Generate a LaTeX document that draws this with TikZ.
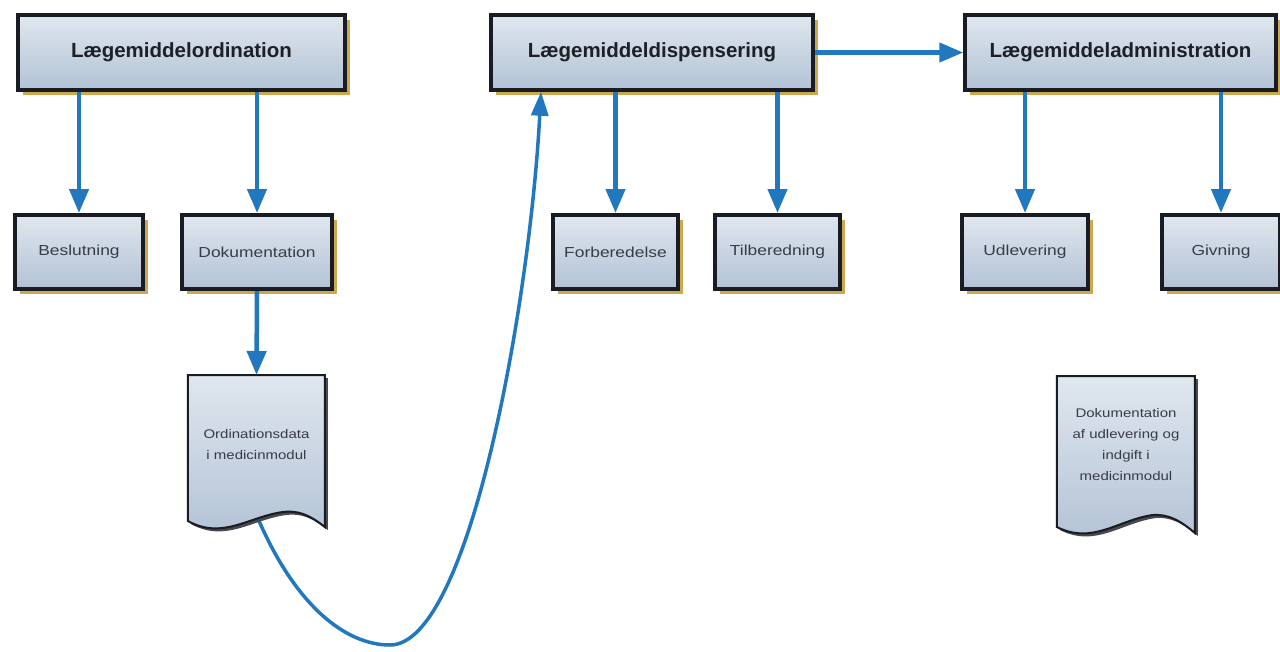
\documentclass[tikz,border=0pt]{standalone}
\usepackage{fontspec}
\setmainfont{Liberation Sans}
\newfontfamily\wide[FakeStretch=1.2]{Liberation Sans}
\usetikzlibrary{shadows,arrows.meta,calc}
\definecolor{arrowblue}{RGB}{34,120,190}
\definecolor{boxtop}{RGB}{224,231,239}
\definecolor{boxbot}{RGB}{178,194,213}
\definecolor{shadowgold}{RGB}{205,168,80}
\definecolor{edgec}{RGB}{25,28,34}
\definecolor{txt}{RGB}{30,32,40}
\definecolor{subtxt}{RGB}{55,60,70}
\begin{document}
\begin{tikzpicture}[x=1pt,y=-1pt,
  mainbox/.style={draw=edgec,line width=3.5pt,top color=boxtop,bottom color=boxbot,
    minimum height=75pt,inner sep=0pt,text=txt,
    font=\bfseries\fontsize{20.5}{24}\selectfont,
    general shadow={fill=shadowgold,shadow xshift=5pt,shadow yshift=-5pt}},
  subbox/.style={draw=edgec,line width=4pt,top color=boxtop,bottom color=boxbot,
    minimum height=74pt,inner sep=0pt,text=subtxt,
    font=\wide\fontsize{14.5}{17}\selectfont,
    general shadow={fill=shadowgold,shadow xshift=5pt,shadow yshift=-5pt}},
  docarea/.style={minimum width=137pt,minimum height=150pt,inner sep=0pt,anchor=north},
  doctext/.style={align=center,text=subtxt,font=\wide\fontsize{12.5}{21}\selectfont},
  docline/.style={draw=edgec,line width=2pt,top color=boxtop,bottom color=boxbot},
  docshadow/.style={fill=edgec!80},
  flow/.style={draw=arrowblue,line width=4.5pt,-{Triangle[length=24pt,width=19pt]}},
  curveflow/.style={draw=arrowblue,line width=3.5pt,-{Triangle[length=24pt,width=17pt]}},
]
\useasboundingbox (0,0) rectangle (1280,651);
\fill[white] (0,0) rectangle (1280,651);

% top boxes
\node[mainbox,minimum width=327pt] (b1) at (181.5,52.5) {Lægemiddelordination};
\node[mainbox,minimum width=322pt] (b2) at (652,52.5) {Lægemiddeldispensering};
\node[mainbox,minimum width=311pt] (b3) at (1120.5,52.5) {Lægemiddeladministration};

% sub boxes
\node[subbox,minimum width=128pt] (s1) at (79,252) {Beslutning};
\node[subbox,minimum width=150pt] (s2) at (257,252) {Dokumentation};
\node[subbox,minimum width=125pt] (s3) at (615.5,252) {Forberedelse};
\node[subbox,minimum width=125pt] (s4) at (777.5,252) {Tilberedning};
\node[subbox,minimum width=126pt] (s5) at (1025,252) {Udlevering};
\node[subbox,minimum width=118pt] (s6) at (1221,252) {Givning};

% document areas
\node[docarea] (doc1) at (256.5,375) {};
\node[docarea,minimum width=138pt,minimum height=155pt] (doc2) at (1126,376) {};

% curved connector (drawn below the document)
\path (b2.south) ++(-111,0) coordinate (dispin);
\coordinate (doc1out) at ($(doc1.south)+(1,-8)$);
\draw[curveflow] (doc1out) .. controls (295,605) and (345,645) .. (390,645)
  .. controls (470,645) and (530,300) .. (dispin);

% document shapes
\begin{scope}[shift={(doc1.north west)}]
  \path[docshadow] (3,3) -- (140,3) -- (140,155) .. controls (125,143) and (113,138) .. (98,140)
    .. controls (63,145) and (38,168) .. (3,149) -- cycle;
  \path[docline] (0,0) -- (137,0) -- (137,152) .. controls (122,140) and (110,135) .. (95,137)
    .. controls (60,142) and (35,165) .. (0,146) -- cycle;
\end{scope}
\begin{scope}[shift={(doc2.north west)}]
  \path[docshadow] (3,3) -- (141,3) -- (141,160) .. controls (126,147) and (114,141) .. (99,142)
    .. controls (64,147) and (39,172) .. (3,154) -- cycle;
  \path[docline] (0,0) -- (138,0) -- (138,157) .. controls (123,144) and (111,138) .. (96,139)
    .. controls (61,144) and (36,169) .. (0,151) -- cycle;
\end{scope}
\node[doctext] (doc1t) at (256.5,445) {Ordinationsdata\\i medicinmodul};
\node[doctext] (doc2t) at (1126,445) {Dokumentation\\af udlevering og\\indgift i\\medicinmodul};

% straight connectors
\draw[flow] (b1.south -| s1.north) -- (s1.north);
\draw[flow] (b1.south -| s2.north) -- (s2.north);
\draw[flow] (s2.south) -- (doc1.north);
\draw[flow] (b2.south -| s3.north) -- (s3.north);
\draw[flow] (b2.south -| s4.north) -- (s4.north);
\draw[flow] (b2.east) -- (b3.west);
\draw[flow] (b3.south -| s5.north) -- (s5.north);
\draw[flow] (b3.south -| s6.north) -- (s6.north);
\end{tikzpicture}
\end{document}
